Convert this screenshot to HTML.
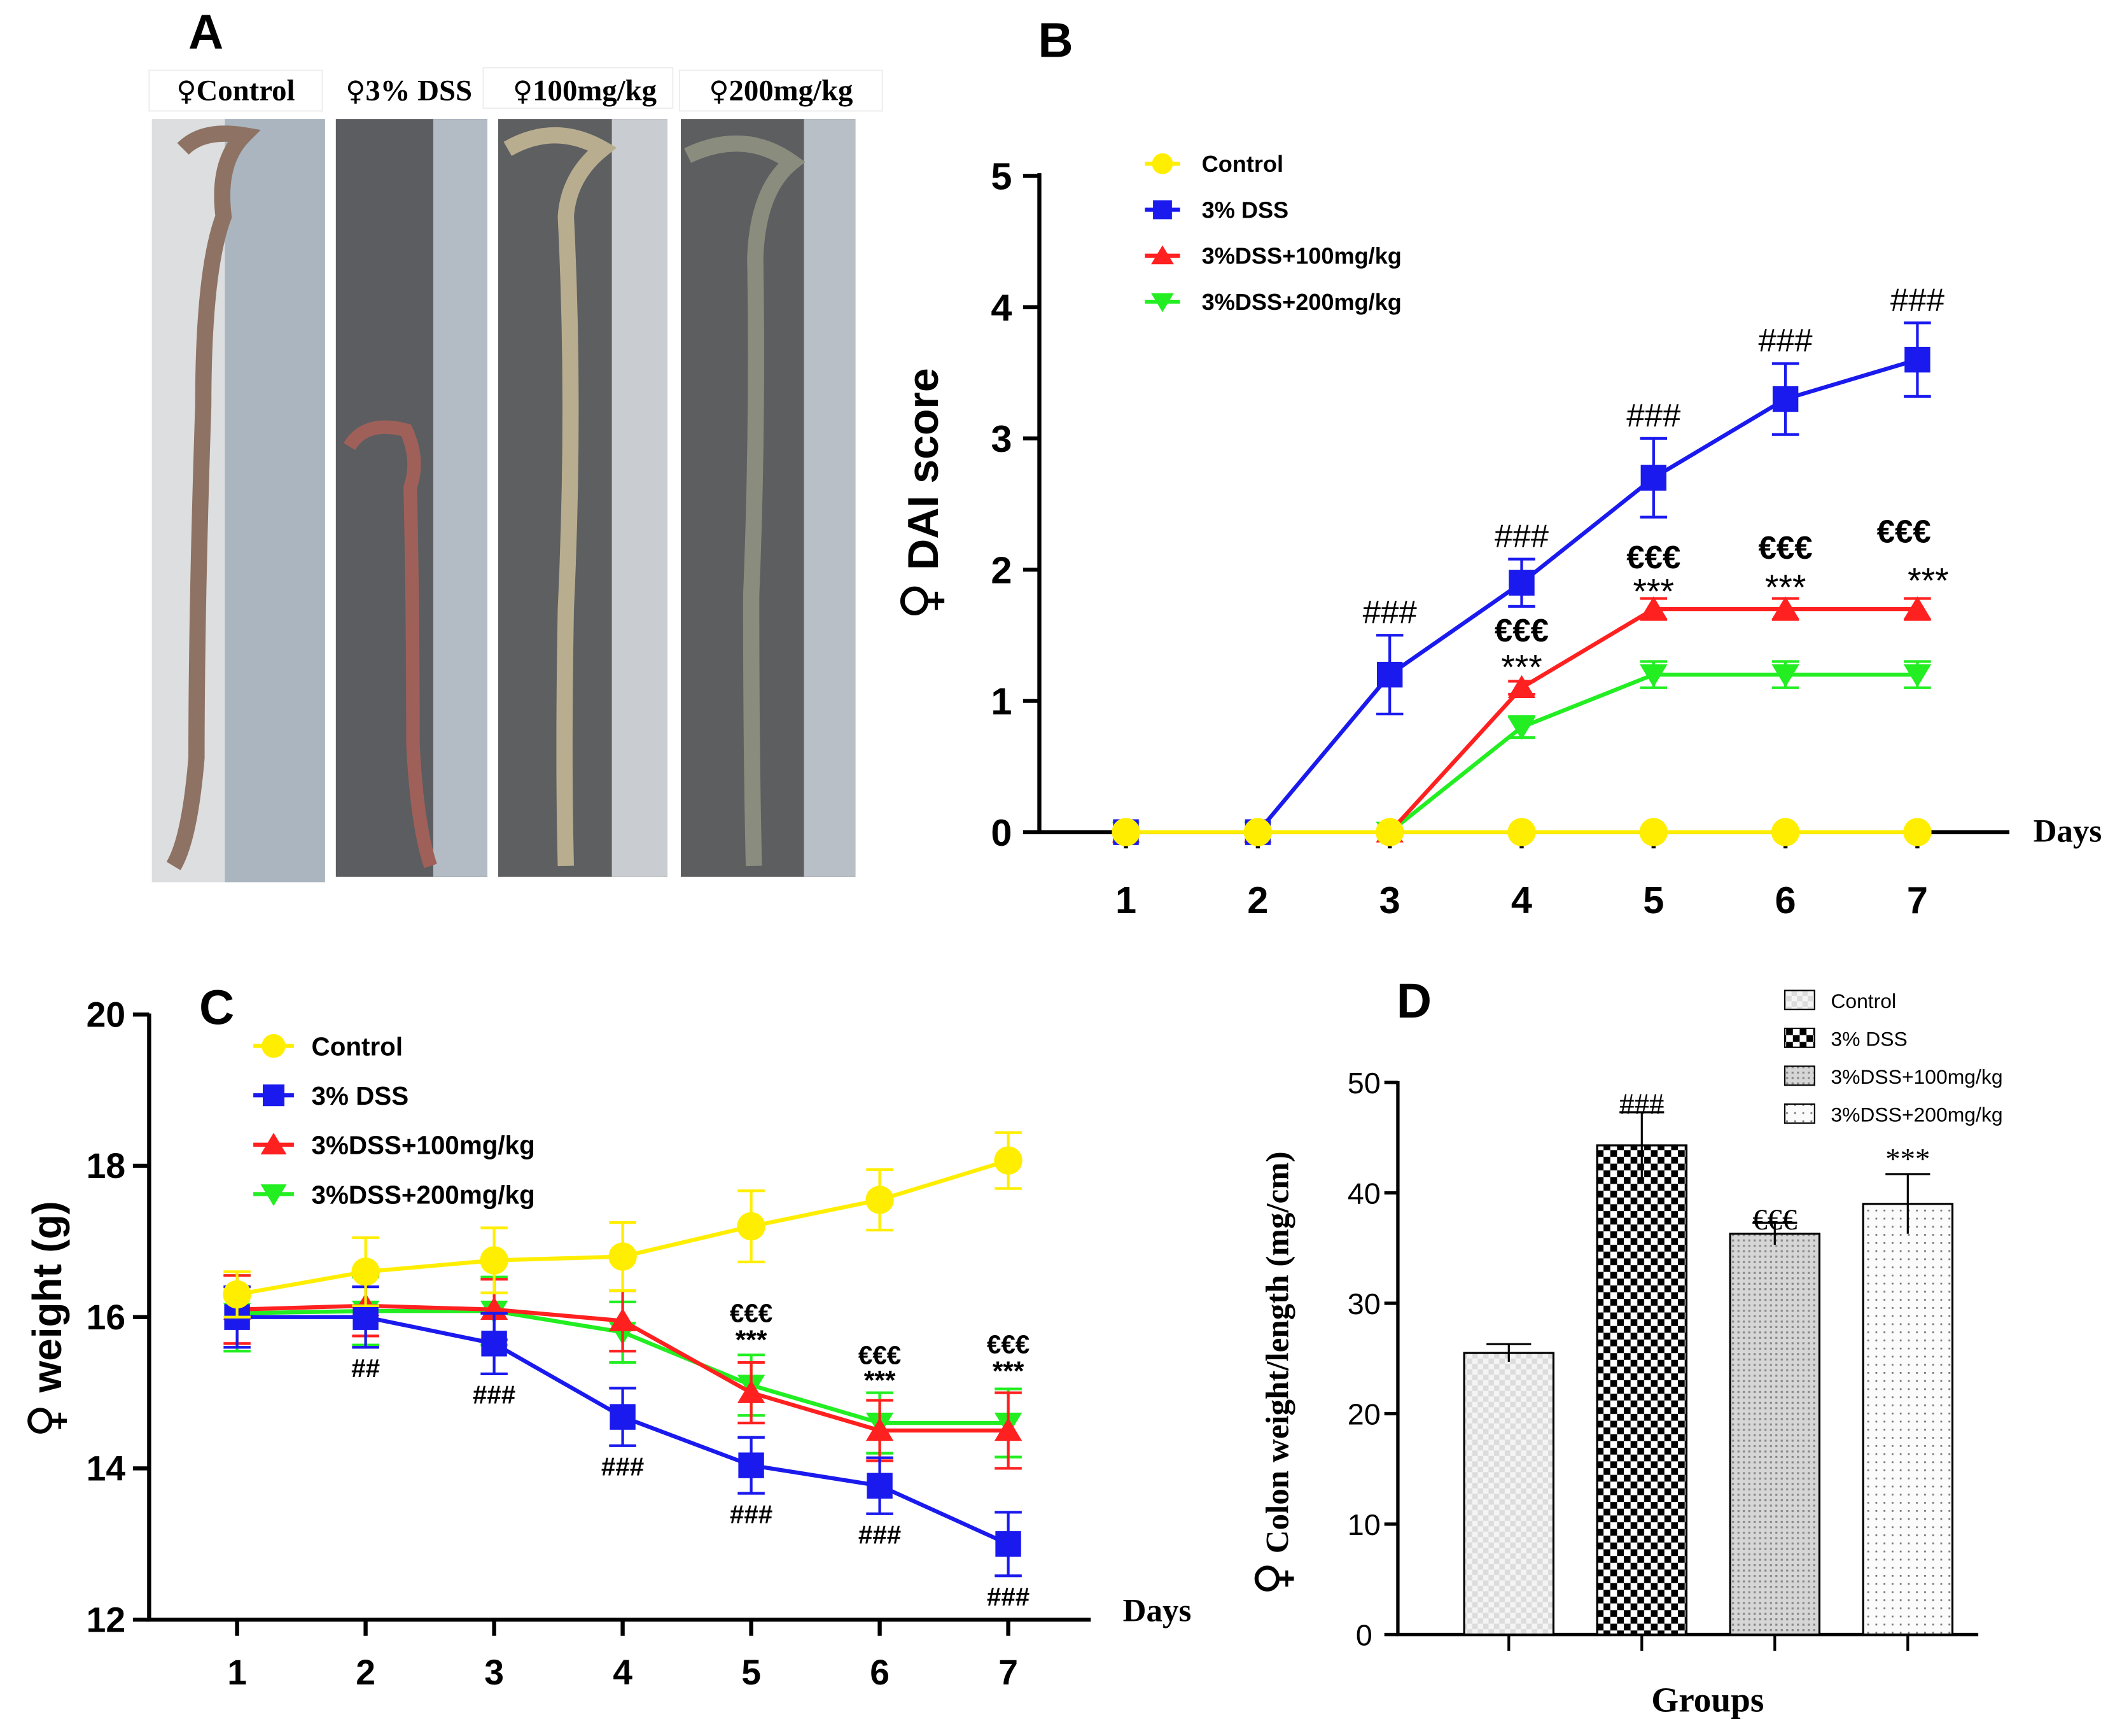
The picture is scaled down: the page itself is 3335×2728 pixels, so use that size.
<!DOCTYPE html>
<html><head><meta charset="utf-8"><style>
html,body{margin:0;padding:0;background:#fff}
svg{display:block}
text{font-family:"Liberation Sans",Arial,sans-serif}
.serif{font-family:"Liberation Serif","Times New Roman",serif}
.fem{font-family:"DejaVu Sans",sans-serif}
</style></head><body>
<svg id="fig" width="3335" height="2728" viewBox="0 0 1568 1283" xmlns="http://www.w3.org/2000/svg">
<defs>
<pattern id="pCtrl" width="8" height="8" patternUnits="userSpaceOnUse"><rect width="8" height="8" fill="#f4f4f4"/><rect width="4" height="4" fill="#dcdcdc"/><rect x="4" y="4" width="4" height="4" fill="#dcdcdc"/></pattern>
<pattern id="pDss" width="10" height="10" patternUnits="userSpaceOnUse"><rect width="10" height="10" fill="#fff"/><rect width="5" height="5" fill="#000"/><rect x="5" y="5" width="5" height="5" fill="#000"/></pattern>
<pattern id="p100" width="4" height="4" patternUnits="userSpaceOnUse"><rect width="4" height="4" fill="#d6d6d6"/><rect width="1.5" height="1.5" fill="#888"/></pattern>
<pattern id="p200" width="6" height="6" patternUnits="userSpaceOnUse"><rect width="6" height="6" fill="#fbfbfb"/><rect width="1.3" height="1.3" fill="#777"/></pattern>
</defs>

<g>
<text x="152" y="36" font-size="36" font-weight="bold" text-anchor="middle">A</text>
<g font-size="22" font-weight="bold">
<rect x="110" y="52" width="128" height="30" fill="#fff" stroke="#eee"/><text class="serif" x="174" y="74" text-anchor="middle"><tspan class="fem" font-size="20">♀</tspan>Control</text>
<text class="serif" x="302" y="74" text-anchor="middle"><tspan class="fem" font-size="20">♀</tspan>3% DSS</text>
<rect x="357" y="50" width="140" height="30" fill="#fff" stroke="#eee"/><text class="serif" x="432" y="74" text-anchor="middle"><tspan class="fem" font-size="20">♀</tspan>100mg/kg</text>
<rect x="502" y="52" width="150" height="30" fill="#fff" stroke="#eee"/><text class="serif" x="577" y="74" text-anchor="middle"><tspan class="fem" font-size="20">♀</tspan>200mg/kg</text>
</g>
<g>
<rect x="112" y="88" width="128" height="564" fill="#dcdedf"/><rect x="166" y="88" width="74" height="564" fill="#aab5bf"/>
<path d="M135 110 Q150 95 180 100 Q160 120 165 160 Q150 200 150 300 Q145 450 145 560 Q140 620 128 640" stroke="#8e7264" stroke-width="12" fill="none"/>
</g>
<g>
<rect x="248" y="88" width="112" height="560" fill="#5b5d60"/><rect x="320" y="88" width="40" height="560" fill="#b3bcc4"/>
<path d="M258 330 Q270 310 300 318 Q310 340 303 360 Q305 450 305 550 Q308 610 318 640" stroke="#a0605a" stroke-width="10" fill="none"/>
</g>
<g>
<rect x="368" y="88" width="125" height="560" fill="#5d5f61"/><rect x="452" y="88" width="41" height="560" fill="#c9cdd1"/>
<path d="M375 110 Q410 90 445 110 Q420 130 418 160 Q425 300 418 450 Q416 560 418 640" stroke="#b9ad90" stroke-width="12" fill="none"/>
</g>
<g>
<rect x="503" y="88" width="129" height="560" fill="#5c5e60"/><rect x="594" y="88" width="38" height="560" fill="#b9bfc6"/>
<path d="M508 115 Q550 95 585 120 Q560 140 558 190 Q560 320 555 440 Q555 560 557 640" stroke="#8a8c7e" stroke-width="12" fill="none"/>
</g>
</g>

<g id="chartB"></g>
<g id="chartC"></g>
<g id="chartD"></g>
</svg>
<script>
// ---- Panel B data ----
const bDays = [1,2,3,4,5,6,7];
const bYTicks = [0,1,2,3,4,5];
const bControl = [0,0,0,0,0,0,0];
const bDss = [0,0,1.2,1.9,2.7,3.3,3.6];
const bDssErr = [0,0,0.3,0.18,0.3,0.27,0.28];
const b100 = [0,0,0,1.1,1.7,1.7,1.7];
const b100Err = [0,0,0,0.05,0.08,0.08,0.08];
const b200 = [0,0,0,0.8,1.2,1.2,1.2];
const b200Err = [0,0,0,0.08,0.1,0.1,0.1];
// ---- Panel C data ----
const cDays = [1,2,3,4,5,6,7];
const cYTicks = [12,14,16,18,20];
const cControl = [16.3,16.6,16.75,16.8,17.2,17.55,18.07];
const cControlErr = [0.3,0.45,0.43,0.45,0.47,0.4,0.37];
const cDss = [16.0,16.0,15.65,14.68,14.04,13.77,13.0];
const cDssErr = [0.4,0.4,0.4,0.38,0.37,0.37,0.42];
const c100 = [16.1,16.15,16.1,15.95,15.0,14.5,14.5];
const c100Err = [0.45,0.4,0.4,0.4,0.4,0.4,0.5];
const c200 = [16.05,16.08,16.08,15.8,15.1,14.6,14.6];
const c200Err = [0.5,0.45,0.45,0.4,0.4,0.4,0.45];
// ---- Panel D data ----
const dGroups = ["Control","3% DSS","3%DSS+100mg/kg","3%DSS+200mg/kg"];
const dValues = [25.5,44.3,36.3,39.0];
const dErr = [0.8,3.0,1.0,2.7];
const dYTicks = [0,10,20,30,40,50];

const NS="http://www.w3.org/2000/svg";
function mk(parent,tag,attrs,txt){const e=document.createElementNS(NS,tag);for(const k in attrs)e.setAttribute(k,attrs[k]);if(txt!==undefined)e.textContent=txt;parent.appendChild(e);return e;}
function marker(g,shape,x,y,color,s){
  let e;
  if(shape==='circle') e=mk(g,'circle',{cx:x,cy:y,r:s*0.55,fill:color});
  else if(shape==='square') e=mk(g,'rect',{x:x-s*0.5,y:y-s*0.5,width:s,height:s,fill:color});
  else if(shape==='up') e=mk(g,'polygon',{points:`${x},${y-s*0.55} ${x-s*0.6},${y+s*0.45} ${x+s*0.6},${y+s*0.45}`,fill:color});
  else e=mk(g,'polygon',{points:`${x},${y+s*0.55} ${x-s*0.6},${y-s*0.45} ${x+s*0.6},${y-s*0.45}`,fill:color});
  return e;
}
function series(g,name,days,vals,errs,xf,yf,color,shape,s,capw){
  const sg=mk(g,'g',{});
  
  
  vals.forEach((v,i)=>{ if(errs[i]>0){
    const x=xf(days[i]);
    mk(sg,'line',{x1:x,x2:x,y1:yf(v-errs[i]),y2:yf(v+errs[i]),stroke:color,'stroke-width':2});
    mk(sg,'line',{x1:x-capw,x2:x+capw,y1:yf(v+errs[i]),y2:yf(v+errs[i]),stroke:color,'stroke-width':2});
    mk(sg,'line',{x1:x-capw,x2:x+capw,y1:yf(v-errs[i]),y2:yf(v-errs[i]),stroke:color,'stroke-width':2});
  }});
  mk(sg,'polyline',{points:vals.map((v,i)=>xf(days[i])+','+yf(v)).join(' '),fill:'none',stroke:color,'stroke-width':3});
  vals.forEach((v,i)=>{const m=marker(sg,shape,xf(days[i]),yf(v),color,s);
    
    });
}
function txt(g,name,x,y,t,size,extra){const e=mk(g,'text',Object.assign({x:x,y:y,'font-size':size,'text-anchor':'middle'},extra||{}),t);
  
  return e;}
function femTitle(g,name,x,y,rest,size,femSize,extra){
  const e=txt(g,name,0,0,'',size,Object.assign({transform:`translate(${x},${y}) rotate(-90)`},extra||{}));
  mk(e,'tspan',{class:'fem','font-size':femSize,'font-weight':'normal'},'♀');
  mk(e,'tspan',{},rest);
  return e;
}

// ===== Panel B =====
(function(){
  const g=document.getElementById('chartB');
  const xf=d=>832+(d-1)*97.5, yf=v=>615-v*97;
  txt(g,'panel-b-label',780,42,'B',36,{'font-weight':'bold'});
  mk(g,'line',{x1:768,x2:768,y1:128,y2:616,stroke:'#000','stroke-width':3});
  mk(g,'line',{x1:766,x2:1485,y1:615,y2:615,stroke:'#000','stroke-width':3});
  bYTicks.forEach(t=>{mk(g,'line',{x1:756,x2:768,y1:yf(t),y2:yf(t),stroke:'#000','stroke-width':3});
    txt(g,'y-tick-label',740,yf(t)+10,String(t),28,{'font-weight':'bold'});});
  bDays.forEach(d=>{mk(g,'line',{x1:xf(d),x2:xf(d),y1:615,y2:627,stroke:'#000','stroke-width':3});
    txt(g,'x-tick-label',xf(d),675,String(d),28,{'font-weight':'bold'});});
  txt(g,'x-axis-title',1528,622,'Days',24,{'font-weight':'bold',class:'serif'});
  femTitle(g,'y-axis-title',693,365,' DAI score',32,38,{'font-weight':'bold'});
  series(g,'series-200',bDays,b200,b200Err,xf,yf,'#22ee22','down',17,10);
  series(g,'series-100',bDays,b100,b100Err,xf,yf,'#ff2020','up',17,10);
  series(g,'series-dss',bDays,bDss,bDssErr,xf,yf,'#1a1aee','square',19,10);
  series(g,'series-control',bDays,bControl,bControl.map(()=>0),xf,yf,'#ffee00','circle',19,10);
  [3,4,5,6,7].forEach(d=>txt(g,'annotation-hash',xf(d),yf(bDss[d-1]+bDssErr[d-1])-9,'###',24));
  const euroY=[null,null,null,474,420,413,401], starY=[null,null,null,502,446,443,438];
  [4,5,6,7].forEach(d=>{txt(g,'annotation-euro',xf(d)+(d==7?-10:0),euroY[d-1],'€€€',24,{'font-weight':'bold'});
    txt(g,'annotation-star',xf(d)+(d==7?8:0),starY[d-1],'***',26);});
  const leg=[['Control','#ffee00','circle'],['3% DSS','#1a1aee','square'],['3%DSS+100mg/kg','#ff2020','up'],['3%DSS+200mg/kg','#22ee22','down']];
  leg.forEach((l,i)=>{const y=121+i*34;const lg=mk(g,'g',{});
    
    
    mk(lg,'line',{x1:846,x2:872,y1:y,y2:y,stroke:l[1],'stroke-width':3});
    marker(lg,l[2],859,y,l[1],14);
    mk(lg,'text',{x:888,y:y+6,'font-size':17,'font-weight':'bold'},l[0]);});
})();

// ===== Panel C =====
(function(){
  const g=document.getElementById('chartC');
  const xf=d=>175+(d-1)*95, yf=v=>1197-(v-12)*55.9;
  txt(g,'panel-c-label',160,757,'C',36,{'font-weight':'bold'});
  mk(g,'line',{x1:110,x2:110,y1:749,y2:1198,stroke:'#000','stroke-width':3});
  mk(g,'line',{x1:108,x2:806,y1:1197,y2:1197,stroke:'#000','stroke-width':3});
  cYTicks.forEach(t=>{mk(g,'line',{x1:98,x2:110,y1:yf(t),y2:yf(t),stroke:'#000','stroke-width':3});
    txt(g,'y-tick-label',78,yf(t)+9,String(t),26,{'font-weight':'bold'});});
  cDays.forEach(d=>{mk(g,'line',{x1:xf(d),x2:xf(d),y1:1197,y2:1209,stroke:'#000','stroke-width':3});
    txt(g,'x-tick-label',xf(d),1245,String(d),26,{'font-weight':'bold'});});
  txt(g,'x-axis-title',855,1198,'Days',24,{'font-weight':'bold',class:'serif'});
  femTitle(g,'y-axis-title',45,975,' weight (g)',30,34,{'font-weight':'bold'});
  series(g,'series-200',cDays,c200,c200Err,xf,yf,'#22ee22','down',17,10);
  series(g,'series-100',cDays,c100,c100Err,xf,yf,'#ff2020','up',17,10);
  series(g,'series-dss',cDays,cDss,cDssErr,xf,yf,'#1a1aee','square',19,10);
  series(g,'series-control',cDays,cControl,cControlErr,xf,yf,'#ffee00','circle',19,10);
  const hashes=['','##','###','###','###','###','###'];
  [2,3,4,5,6,7].forEach(d=>txt(g,'annotation-hash',xf(d),yf(cDss[d-1]-cDssErr[d-1])+22,hashes[d-1],19,{'font-weight':'bold'}));
  const eY=[null,null,null,null,977,1008,1000], sY=[null,null,null,null,997,1027,1020];
  [5,6,7].forEach(d=>{txt(g,'annotation-euro',xf(d),eY[d-1],'€€€',19,{'font-weight':'bold'});
    txt(g,'annotation-star',xf(d),sY[d-1],'***',20,{'font-weight':'bold'});});
  const leg=[['Control','#ffee00','circle'],['3% DSS','#1a1aee','square'],['3%DSS+100mg/kg','#ff2020','up'],['3%DSS+200mg/kg','#22ee22','down']];
  leg.forEach((l,i)=>{const y=773+i*36.5;const lg=mk(g,'g',{});
    
    
    mk(lg,'line',{x1:187,x2:217,y1:y,y2:y,stroke:l[1],'stroke-width':3});
    marker(lg,l[2],202,y,l[1],16);
    mk(lg,'text',{x:230,y:y+7,'font-size':19,'font-weight':'bold'},l[0]);});
})();

// ===== Panel D =====
(function(){
  const g=document.getElementById('chartD');
  const yf=v=>1208-v*8.16, xc=i=>1115+i*98.3, bw=66;
  const fills=['url(#pCtrl)','url(#pDss)','url(#p100)','url(#p200)'];
  txt(g,'panel-d-label',1045,752,'D',36,{'font-weight':'bold'});
  mk(g,'line',{x1:1033,x2:1033,y1:799,y2:1209,stroke:'#000','stroke-width':2.5});
  mk(g,'line',{x1:1032,x2:1462,y1:1208,y2:1208,stroke:'#000','stroke-width':2.5});
  dYTicks.forEach(t=>{mk(g,'line',{x1:1023,x2:1033,y1:yf(t),y2:yf(t),stroke:'#000','stroke-width':2.5});
    txt(g,'y-tick-label',1008,yf(t)+8,String(t),22);});
  dValues.forEach((v,i)=>{
    const r=mk(g,'rect',{x:xc(i)-bw/2,y:yf(v),width:bw,height:yf(0)-yf(v),fill:fills[i],stroke:'#000','stroke-width':1.5});
    
    
    mk(g,'line',{x1:xc(i),x2:xc(i),y1:yf(v-dErr[i]),y2:yf(v+dErr[i]),stroke:'#000','stroke-width':1.5});
    mk(g,'line',{x1:xc(i)-bw/4,x2:xc(i)+bw/4,y1:yf(v+dErr[i]),y2:yf(v+dErr[i]),stroke:'#000','stroke-width':1.5});
    mk(g,'line',{x1:xc(i),x2:xc(i),y1:1208,y2:1220,stroke:'#000','stroke-width':2});
  });
  txt(g,'annotation-hash',xc(1),yf(dValues[1]+dErr[1])+1,'###',22,{class:'serif'});
  txt(g,'annotation-euro',xc(2),yf(dValues[2]+dErr[2])+5,'€€€',22,{class:'serif'});
  txt(g,'annotation-star',xc(3),yf(dValues[3]+dErr[3])-4,'***',22,{class:'serif'});
  txt(g,'x-axis-title',1262,1265,'Groups',26,{'font-weight':'bold',class:'serif'});
  femTitle(g,'y-axis-title',952,1015,' Colon weight/length (mg/cm)',24,34,{class:'serif','font-weight':'bold'});
  dGroups.forEach((n,i)=>{const y=739+i*28;const lg=mk(g,'g',{});
    
    
    mk(lg,'rect',{x:1319,y:y-7,width:22,height:14,fill:fills[i],stroke:'#000','stroke-width':1});
    mk(lg,'text',{x:1353,y:y+6,'font-size':15},n);});
})();
</script>
</body></html>
